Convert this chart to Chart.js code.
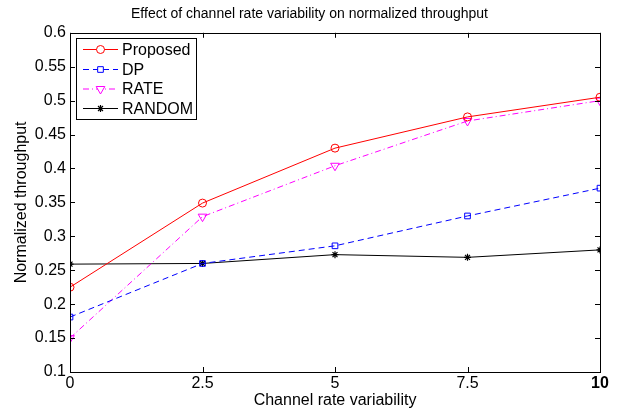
<!DOCTYPE html>
<html>
<head>
<meta charset="utf-8">
<script src="https://cdn.jsdelivr.net/npm/chart.js@4"></script>
<style>
html,body{margin:0;padding:0;background:#fff;}
#wrap{width:619px;height:416px;position:relative;}
</style>
</head>
<body>
<div id="wrap"><canvas id="c"></canvas></div>
<script>
const xValues = [0, 2.5, 5, 7.5, 10];
const proposed = [0.225, 0.349, 0.430, 0.476, 0.505];
const dp = [0.181, 0.260, 0.286, 0.330, 0.371];
const rate = [0.150, 0.329, 0.404, 0.470, 0.500];
const random = [0.259, 0.260, 0.273, 0.269, 0.280];
const xTicks = [0, 2.5, 5, 7.5, 10];
const yTicks = [0.1, 0.15, 0.2, 0.25, 0.3, 0.35, 0.4, 0.45, 0.5, 0.55, 0.6];
const seriesLabels = ['Proposed', 'DP', 'RATE', 'RANDOM'];

const FONT = "'Liberation Sans', Arial, Helvetica, sans-serif";
const toPts = arr => arr.map((v, i) => ({x: xValues[i], y: v}));

const frame = {
  id: 'frame',
  afterDatasetsDraw(chart) {
    const {ctx, chartArea: a, scales: {x, y}} = chart;
    ctx.save();
    ctx.strokeStyle = '#000';
    ctx.lineWidth = 1;
    ctx.setLineDash([]);
    ctx.strokeRect(Math.round(a.left) + 0.5, Math.round(a.top) + 0.5, Math.round(a.right - a.left), Math.round(a.bottom - a.top));
    const L = 5;
    ctx.beginPath();
    xTicks.forEach(v => {
      const px = Math.round(x.getPixelForValue(v)) + 0.5;
      ctx.moveTo(px, a.bottom); ctx.lineTo(px, a.bottom - L);
      ctx.moveTo(px, a.top); ctx.lineTo(px, a.top + L);
    });
    yTicks.forEach(v => {
      const py = Math.round(y.getPixelForValue(v)) + 0.5;
      ctx.moveTo(a.left, py); ctx.lineTo(a.left + L, py);
      ctx.moveTo(a.right, py); ctx.lineTo(a.right - L, py);
    });
    ctx.stroke();
    ctx.restore();
  },
  afterDraw(chart) {
    const ctx = chart.ctx;
    const bx = 76.5, by = 38.5, bw = 120, bh = 81;
    ctx.save();
    ctx.fillStyle = '#fff';
    ctx.fillRect(bx, by, bw, bh);
    ctx.strokeStyle = '#000';
    ctx.lineWidth = 1;
    ctx.strokeRect(bx, by, bw, bh);
    const rows = [49.5, 69.5, 89, 108.5];
    chart.data.datasets.forEach((ds, i) => {
      const yy = rows[i];
      ctx.save();
      ctx.strokeStyle = ds.borderColor;
      ctx.lineWidth = ds.borderWidth;
      ctx.setLineDash(ds.borderDash || []);
      ctx.beginPath();
      ctx.moveTo(83, yy); ctx.lineTo(118, yy);
      ctx.stroke();
      ctx.setLineDash([]);
      ctx.fillStyle = '#fff';
      ctx.strokeStyle = ds.pointBorderColor;
      ctx.lineWidth = ds.pointBorderWidth;
      Chart.helpers.drawPoint(ctx, {
        pointStyle: ds.pointStyle, radius: ds.pointRadius, rotation: ds.pointRotation || 0,
        borderWidth: ds.pointBorderWidth
      }, 100.5, yy);
      ctx.restore();
      ctx.fillStyle = '#000';
      ctx.font = '16px ' + FONT;
      ctx.textBaseline = 'middle';
      ctx.textAlign = 'left';
      ctx.fillText(ds.label, 122, yy + 1);
    });
    ctx.restore();
  }
};

new Chart(document.getElementById('c'), {
  type: 'line',
  data: {
    datasets: [
      {label: seriesLabels[0], data: toPts(proposed), borderColor: '#ff0000', borderWidth: 1,
       pointStyle: 'circle', pointRadius: 4, pointBorderColor: '#ff0000', pointBackgroundColor: 'rgba(0,0,0,0)', pointBorderWidth: 1},
      {label: seriesLabels[1], data: toPts(dp), borderColor: '#0000ff', borderWidth: 1, borderDash: [6, 4],
       pointStyle: 'rect', pointRadius: 4, pointBorderColor: '#0000ff', pointBackgroundColor: 'rgba(0,0,0,0)', pointBorderWidth: 1},
      {label: seriesLabels[2], data: toPts(rate), borderColor: '#ff00ff', borderWidth: 1, borderDash: [6, 3, 1, 3],
       pointStyle: 'triangle', pointRotation: 180, pointRadius: 5, pointBorderColor: '#ff00ff', pointBackgroundColor: 'rgba(0,0,0,0)', pointBorderWidth: 1},
      {label: seriesLabels[3], data: toPts(random), borderColor: '#000000', borderWidth: 1,
       pointStyle: 'star', pointRadius: 3.5, pointBorderColor: '#000000', pointBackgroundColor: 'rgba(0,0,0,0)', pointBorderWidth: 1.2}
    ]
  },
  options: {
    responsive: true,
    maintainAspectRatio: false,
    animation: false,
    layout: {padding: 0},
    plugins: {
      legend: {display: false},
      tooltip: {enabled: false},
      title: {
        display: true,
        text: 'Effect of channel rate variability on normalized throughput',
        color: '#000',
        font: {family: FONT, size: 14, weight: 'normal', lineHeight: 1.2},
        padding: {top: 6, bottom: 10}
      }
    },
    scales: {
      x: {
        type: 'linear', min: 0, max: 10,
        afterBuildTicks: s => { s.ticks = xTicks.map(v => ({value: v})); },
        afterFit: s => { s.height = 44; },
        ticks: {
          color: '#000', padding: 2, maxRotation: 0,
          font: ctx => ({family: FONT, size: 16, weight: (ctx.tick && ctx.tick.value === 10) ? 'bold' : 'normal'}),
          callback: v => String(v)
        },
        grid: {display: false, drawTicks: false},
        border: {display: false},
        title: {display: true, text: 'Channel rate variability', color: '#000',
          font: {family: FONT, size: 16, lineHeight: 1.2}, padding: {top: 0, bottom: 6}}
      },
      y: {
        type: 'linear', min: 0.1, max: 0.6,
        afterBuildTicks: s => { s.ticks = yTicks.map(v => ({value: v})); },
        afterFit: s => { s.width = 70; },
        ticks: {
          color: '#000', padding: 4,
          font: {family: FONT, size: 16},
          callback: v => String(Math.round(v * 100) / 100)
        },
        grid: {display: false, drawTicks: false},
        border: {display: false},
        title: {display: true, text: 'Normalized throughput', color: '#000',
          font: {family: FONT, size: 16, lineHeight: 1.2}, padding: {top: 12, bottom: 0}}
      },
      yRight: {
        type: 'linear', position: 'right', min: 0.1, max: 0.6,
        afterFit: s => { s.width = 19; },
        ticks: {display: false},
        grid: {display: false, drawTicks: false},
        border: {display: false}
      }
    }
  },
  plugins: [frame]
});
</script>
</body>
</html>
